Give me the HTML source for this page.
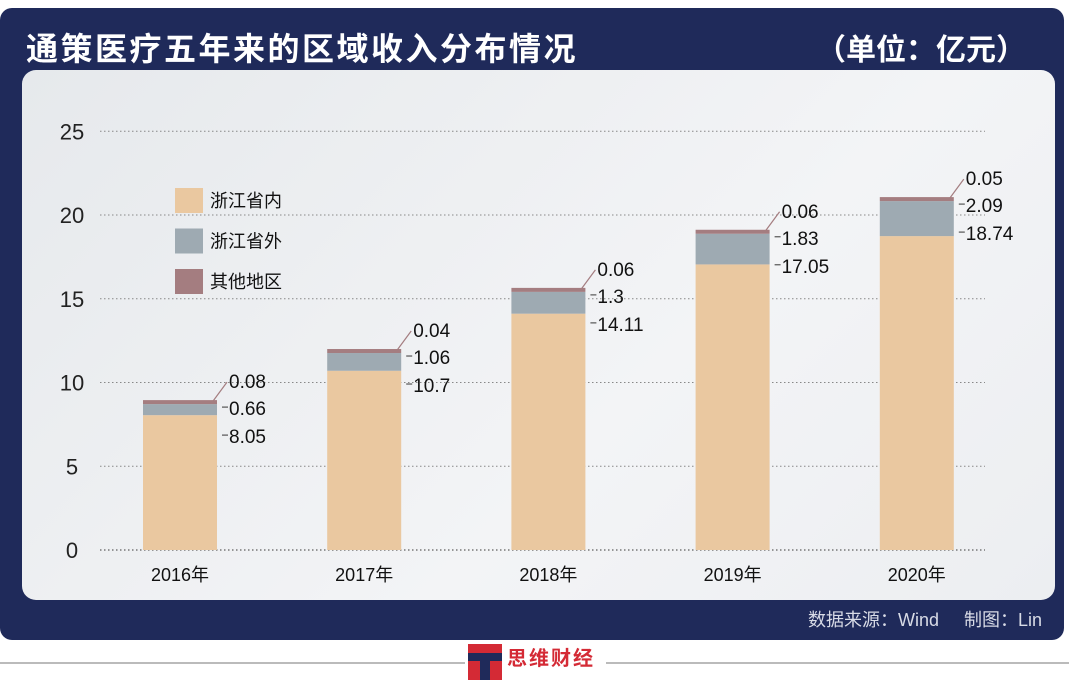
<!DOCTYPE html>
<html><head><meta charset="utf-8"><style>
body{margin:0;width:1069px;height:680px;background:#fff;position:relative;overflow:hidden;font-family:"Liberation Sans","Noto Sans CJK SC",sans-serif}
#card{position:absolute;left:0;top:8px;width:1064px;height:632px;background:#1f2a5a;border-radius:12px}
#title{position:absolute;left:26px;top:16px;color:#fff;font-size:32px;font-weight:bold;letter-spacing:2.5px}
#unit{position:absolute;right:38px;top:17px;color:#fff;font-size:30px;font-weight:bold}
#panel{position:absolute;left:22px;top:62px;width:1033px;height:530px;border-radius:14px;background:linear-gradient(135deg,#e6e9ec,#f3f4f6 60%,#eceef1)}
#foot{position:absolute;right:22px;top:598px;color:#d8dbe6;font-size:18px}
</style></head><body>
<div id="card">
<div id="title">通策医疗五年来的区域收入分布情况</div>
<div id="unit">（单位：亿元）</div>
<div id="panel"></div>
<div id="foot">数据来源：Wind&nbsp;&nbsp;&nbsp;&nbsp;&nbsp;制图：Lin</div>
</div>
<svg id="chart" width="1069" height="680" style="position:absolute;left:0;top:0"></svg>
<div style="position:absolute;left:0;top:662px;width:465px;height:2px;background:#bbb"></div>
<div style="position:absolute;left:606px;top:662px;width:463px;height:2px;background:#bbb"></div>
<div style="position:absolute;left:468px;top:644px;width:34px;height:36px;background:#d42a35"><div style="position:absolute;left:0;top:9px;width:34px;height:8px;background:#1f2a5a"></div><div style="position:absolute;left:12px;top:17px;width:10px;height:19px;background:#1f2a5a"></div></div>
<div style="position:absolute;left:507px;top:642px;color:#d42a35;font-size:20px;font-weight:bold;letter-spacing:2px">思维财经</div>
<script>
const years=["2016年","2017年","2018年","2019年","2020年"];
const inner=[8.05,10.7,14.11,17.05,18.74];
const outer=[0.66,1.06,1.3,1.83,2.09];
const other=[0.08,0.04,0.06,0.06,0.05];
const ticks=[0,5,10,15,20,25];
const seriesNames=["浙江省内","浙江省外","其他地区"];
const colors=["#eac8a0","#9eaab2","#a47d80"];
const NS="http://www.w3.org/2000/svg";
const svg=document.getElementById('chart');
const y=v=>550-v*16.75;
const x=i=>180+i*184.2;
function mk(t,a){const e=document.createElementNS(NS,t);for(const k in a)e.setAttribute(k,a[k]);svg.appendChild(e);return e;}
ticks.forEach(t=>{
 const l=mk('line',{x1:100,x2:985,y1:y(t),y2:y(t),stroke:t===0?'#777':'#888','stroke-dasharray':'1.5,2.5','stroke-width':t===0?1.5:1});
 
 
 const tx=mk('text',{x:72,y:y(t)+8,'text-anchor':'middle','font-size':22,fill:'#222'});tx.textContent=t;
 
 
});
years.forEach((yr,i)=>{
 const cx=x(i),w=74;
 const vals=[inner[i],outer[i],other[i]];let base=0;let py=y(0);
 vals.forEach((v,s)=>{
  let h=y(base)-y(base+v); if(h<4)h=4;
  const top=py-h;
  const r=mk('rect',{x:cx-w/2,y:top,width:w,height:h,fill:colors[s]});
  
  
  py=top;base+=v;});
 const top=py;
 const ly=[top-14,top+13,top+41];
 const lv=[other[i],outer[i],inner[i]];
 ly.forEach((yy,k)=>{
  const lx=cx+w/2+12;
  if(k===0)mk('line',{x1:cx+w/2-4,y1:top+1,x2:lx-2,y2:yy-4,stroke:'#a47d80','stroke-width':1.2});
  else mk('line',{x1:lx-7,y1:yy-6,x2:lx-1,y2:yy-6,stroke:'#555','stroke-width':1.2});
  const t=mk('text',{x:lx,y:yy+2,'font-size':19,fill:'#111'});t.textContent=lv[k];
  
  
 });
 const xl=mk('text',{x:cx,y:581,'text-anchor':'middle','font-size':18,fill:'#111'});xl.textContent=yr;
 
 
});
seriesNames.forEach((n,k)=>{
 const r=mk('rect',{x:175,y:188+k*40.5,width:28,height:25,fill:colors[k]});
 
 
 const t=mk('text',{x:210,y:207+k*40.5,'font-size':18,fill:'#111'});t.textContent=n;
 
 
});
</script>
</body></html>
